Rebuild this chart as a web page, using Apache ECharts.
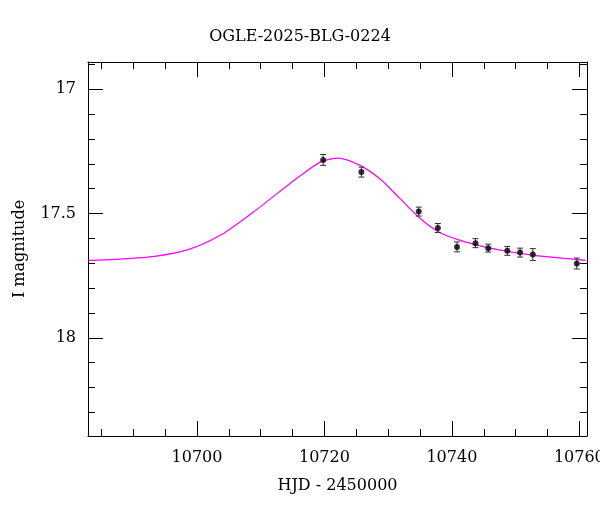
<!DOCTYPE html>
<html>
<head>
<meta charset="utf-8">
<script src="https://cdn.jsdelivr.net/npm/echarts@6/dist/echarts.min.js"></script>
<style>body{margin:0}#c{width:600px;height:512px}</style>
</head>
<body>
<div id="c"></div>
<script>
// observed points
var obsDay = [10719.8, 10725.8, 10734.8, 10737.8, 10740.8, 10743.7, 10745.7, 10748.7, 10750.7, 10752.7, 10759.6];
var obsMag = [17.284, 17.333, 17.492, 17.558, 17.634, 17.619, 17.639, 17.650, 17.657, 17.665, 17.701];
var obsErr = [0.022, 0.020, 0.018, 0.018, 0.020, 0.018, 0.016, 0.018, 0.018, 0.024, 0.022];

// model curve
var modelDay = [10682.96, 10688, 10693.4, 10698.6, 10703.8, 10708.9, 10714.3, 10716.1, 10719.4, 10722.1, 10725.5, 10728.7, 10731.8, 10734.9, 10738.0, 10741.2, 10744.3, 10747.4, 10752.6, 10761.0];
var modelMag = [17.688, 17.683, 17.672, 17.645, 17.585, 17.493, 17.385, 17.350, 17.292, 17.277, 17.305, 17.360, 17.438, 17.517, 17.575, 17.607, 17.629, 17.646, 17.667, 17.688];

var xMajor = [10700, 10720, 10740, 10760];
var xMinor = [10685, 10690, 10695, 10705, 10710, 10715, 10725, 10730, 10735, 10745, 10750, 10755];
var yMajor = [17, 17.5, 18];
var yMinor = [16.9, 17.1, 17.2, 17.3, 17.4, 17.6, 17.7, 17.8, 17.9, 18.1, 18.2, 18.3];

var font = 'DejaVu Serif';
var xMin = 10682.9, xMax = 10761.2, yMin = 16.89, yMax = 18.395;

function xAx(pos, ticks, len, labels, showLine) {
  return {
    type: 'value', position: pos, min: xMin, max: xMax, splitLine: {show: false},
    axisLine: {show: showLine, onZero: false, lineStyle: {color: '#000', width: 1}},
    axisTick: {inside: true, length: len, customValues: ticks, lineStyle: {color: '#000'}},
    axisLabel: labels ? {customValues: xMajor, formatter: function (v) { return String(v); }, color: '#000', fontFamily: font, fontSize: 16, margin: 14} : {show: false},
    name: labels ? 'HJD - 2450000' : '', nameLocation: 'middle', nameGap: 42,
    nameTextStyle: {color: '#000', fontFamily: font, fontSize: 16}
  };
}
function yAx(pos, ticks, len, labels, showLine) {
  return {
    type: 'value', position: pos, inverse: true, min: yMin, max: yMax, splitLine: {show: false},
    axisLine: {show: showLine, onZero: false, lineStyle: {color: '#000', width: 1}},
    axisTick: {inside: true, length: len, customValues: ticks, lineStyle: {color: '#000'}},
    axisLabel: labels ? {customValues: yMajor, color: '#000', fontFamily: font, fontSize: 16, margin: 12} : {show: false},
    name: labels ? 'I magnitude' : '', nameLocation: 'middle', nameGap: 60,
    nameTextStyle: {color: '#000', fontFamily: font, fontSize: 16}
  };
}

var chart = echarts.init(document.getElementById('c'));
chart.setOption({
  animation: false,
  title: {text: 'OGLE-2025-BLG-0224', left: 'center', top: 24, textStyle: {fontFamily: font, fontSize: 16, fontWeight: 'normal', color: '#000'}},
  grid: {left: 88, right: 13, top: 62, bottom: 76, outerBoundsMode: 'none'},
  xAxis: [
    xAx('bottom', xMajor, 15, true, true),
    xAx('bottom', xMinor, 7, false, false),
    xAx('top', xMajor, 15, false, true),
    xAx('top', xMinor, 7, false, false)
  ],
  yAxis: [
    yAx('left', yMajor, 15, true, true),
    yAx('left', yMinor, 7, false, false),
    yAx('right', yMajor, 15, false, true),
    yAx('right', yMinor, 7, false, false)
  ],
  series: [
    {
      type: 'line', smooth: 0.25, showSymbol: false,
      data: modelDay.map(function (d, i) { return [d, modelMag[i]]; }),
      lineStyle: {color: '#ff00ff', width: 1.2}, z: 2
    },
    {
      type: 'custom',
      data: obsDay.map(function (d, i) { return [d, obsMag[i], obsErr[i]]; }),
      renderItem: function (params, api) {
        var x = api.value(0), y = api.value(1), e = api.value(2);
        var top = api.coord([x, y - e]), bot = api.coord([x, y + e]);
        var s = {stroke: '#333', lineWidth: 1};
        return {type: 'group', children: [
          {type: 'line', shape: {x1: top[0], y1: top[1], x2: bot[0], y2: bot[1]}, style: s},
          {type: 'line', shape: {x1: top[0] - 3, y1: top[1], x2: top[0] + 3, y2: top[1]}, style: s},
          {type: 'line', shape: {x1: bot[0] - 3, y1: bot[1], x2: bot[0] + 3, y2: bot[1]}, style: s}
        ]};
      },
      z: 3
    },
    {
      type: 'scatter', symbolSize: 6,
      data: obsDay.map(function (d, i) { return [d, obsMag[i]]; }),
      itemStyle: {color: '#000'}, z: 4
    }
  ]
});
</script>
</body>
</html>
